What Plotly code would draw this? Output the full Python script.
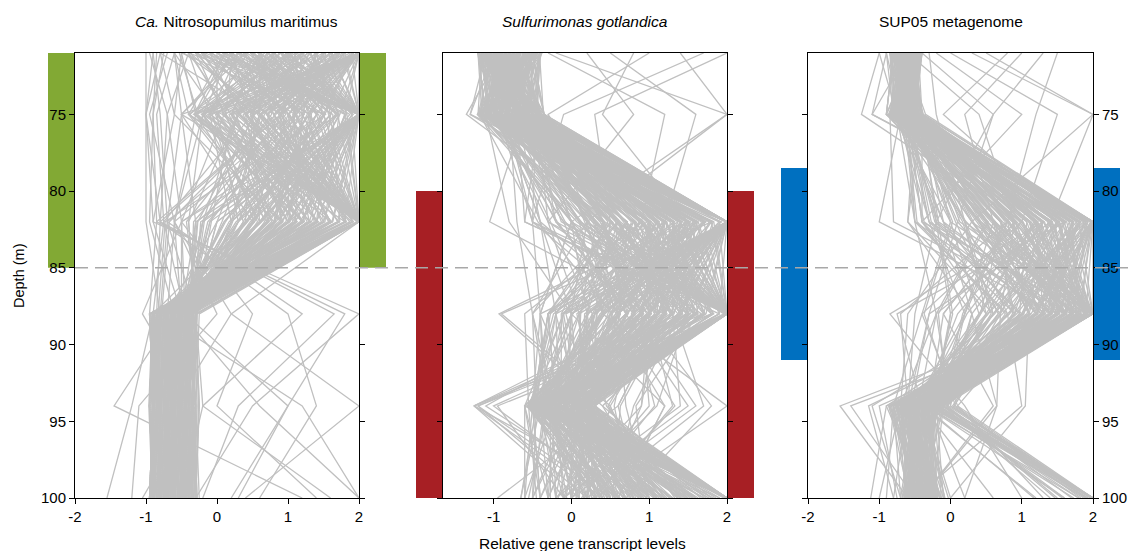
import plotly.graph_objects as go

# Sampling depths (m) of the water-column profile
depths = [71, 75, 82, 88, 94, 100]

# Relative transcript levels per gene (one row per gene, one value per depth)
nmar_profiles = [
    [0.6, 0.2, 2.0, -0.7, -0.8, -0.8], [1.0, 0.5, 2.0, -0.6, -0.9, -0.7],
    [0.3, -0.1, 2.0, -0.5, -0.6, -0.6], [1.4, 0.9, 2.0, -0.8, -0.85, -0.9],
    [-0.2, 0.4, 2.0, -0.4, -0.7, -0.5], [0.9, 1.3, 2.0, -0.9, -0.9, -0.85],
    [0.1, 0.8, 2.0, -0.7, -0.5, -0.6], [1.7, 0.2, 2.0, -0.75, -0.8, -0.8],
    [-0.5, -0.3, 2.0, -0.35, -0.45, -0.4], [0.5, 1.7, 2.0, -0.85, -0.9, -0.95],
    [1.2, -0.2, 2.0, -0.55, -0.65, -0.7], [0.0, 0.0, 2.0, -0.3, -0.55, -0.45],
    [-0.8, 0.6, 2.0, -0.45, -0.35, -0.3], [0.7, 1.0, 2.0, 0.2, -0.6, -0.7],
    [1.9, 1.5, 2.0, -0.9, -0.95, -0.9], [0.4, -0.5, 2.0, -0.6, -0.4, -0.5],
    [-0.3, 1.1, 2.0, -0.65, -0.75, -0.6], [1.5, 0.7, 2.0, -0.5, -0.7, -0.8],
    [1.2, 1.9, 2.0, -0.75, -0.8, -0.85], [0.4, 1.2, 2.0, -0.5, -0.55, -0.6],
    [1.6, 0.1, 2.0, -0.65, -0.7, -0.75], [-0.1, 0.7, 2.0, -0.3, -0.35, -0.4],
    [0.9, -0.4, 2.0, -0.45, -0.5, -0.35], [2.0, 0.4, 2.0, -0.9, -0.85, -0.8],
    [0.2, 1.5, 2.0, -0.6, -0.65, -0.55], [1.1, 1.2, 2.0, -0.8, -0.75, -0.7],
    [-0.4, -0.1, 2.0, -0.25, -0.3, -0.35], [0.6, 0.6, 2.0, -0.55, -0.45, -0.5],
    [1.8, 1.0, 2.0, -0.85, -0.9, -0.95], [0.0, 1.8, 2.0, -0.7, -0.6, -0.65],
    [1.23, 0.47, 2.0, -0.68, -0.73, -0.78], [0.37, 1.12, 2.0, -0.83, -0.88, -0.93],
    [1.57, 1.83, 2.0, -0.93, -0.88, -0.83], [-0.27, 0.33, 2.0, -0.38, -0.43, -0.48],
    [0.83, 0.07, 2.0, -0.53, -0.58, -0.63], [1.93, 0.63, 2.0, -0.78, -0.73, -0.68],
    [0.13, 1.43, 2.0, -0.63, -0.68, -0.73], [1.07, -0.33, 2.0, -0.43, -0.38, -0.33],
    [0.53, 0.93, 2.0, -0.58, -0.53, -0.48], [-0.47, 0.73, 2.0, -0.28, -0.33, -0.38],
    [1.37, 1.57, 2.0, -0.88, -0.83, -0.88], [0.67, -0.17, 2.0, -0.48, -0.63, -0.58],
    [0.8, 2.0, 0.5, -0.7, -0.8, -0.8], [1.3, 2.0, 1.0, -0.8, -0.9, -0.85],
    [0.2, 2.0, -0.2, -0.5, -0.6, -0.6], [1.6, 2.0, 0.2, -0.6, -0.75, -0.7],
    [-0.4, 2.0, 0.8, -0.55, -0.5, -0.45], [0.5, 2.0, 1.5, -0.9, -0.85, -0.9],
    [1.0, 2.0, -0.5, -0.45, -0.55, -0.5], [2.0, 2.0, 0.6, -0.85, -0.9, -0.9],
    [-0.1, 2.0, 1.2, -0.7, -0.65, -0.75], [0.9, 2.0, 0.0, -0.35, -0.4, -0.3],
    [1.1, 2.0, 1.8, -0.95, -0.9, -0.95], [0.0, 2.0, 0.3, -0.6, -0.7, -0.65],
    [1.8, 2.0, -0.3, -0.5, -0.6, -0.55], [0.6, 2.0, 0.9, -0.4, -0.45, -0.35],
    [1.4, 2.0, 1.7, -0.9, -0.95, -0.85], [0.3, 2.0, 0.6, -0.5, -0.55, -0.5],
    [1.9, 2.0, 0.0, -0.7, -0.65, -0.75], [-0.3, 2.0, 1.4, -0.6, -0.6, -0.55],
    [0.7, 2.0, -0.1, -0.4, -0.45, -0.4], [1.2, 2.0, 0.7, -0.65, -0.7, -0.7],
    [0.1, 2.0, 1.0, -0.55, -0.65, -0.6], [1.6, 2.0, 1.1, -0.85, -0.8, -0.85],
    [0.97, 2.0, 0.27, -0.58, -0.63, -0.68], [0.27, 2.0, 1.17, -0.73, -0.68, -0.63],
    [1.47, 2.0, 0.63, -0.68, -0.73, -0.68], [-0.17, 2.0, 0.47, -0.48, -0.53, -0.48],
    [1.77, 2.0, 1.33, -0.93, -0.88, -0.93], [0.57, 2.0, -0.23, -0.33, -0.38, -0.43],
    [1.13, 2.0, 1.63, -0.88, -0.83, -0.88], [0.07, 2.0, 0.83, -0.53, -0.58, -0.53],
    [2.0, 0.9, 0.3, -0.6, -0.7, -0.65], [2.0, 1.4, 0.8, -0.8, -0.85, -0.8],
    [2.0, 0.3, -0.2, -0.5, -0.55, -0.5], [2.0, -0.2, 0.6, -0.45, -0.5, -0.6],
    [2.0, 1.0, 1.3, -0.9, -0.9, -0.85], [2.0, 0.6, 0.0, -0.35, -0.45, -0.4],
    [2.0, 1.6, 0.4, -0.7, -0.75, -0.8], [2.0, -0.5, -0.3, -0.4, -0.3, -0.35],
    [2.0, 0.1, 1.0, -0.65, -0.7, -0.75], [2.0, 1.2, -0.6, -0.5, -0.6, -0.55],
    [2.0, 0.7, 1.6, -0.85, -0.95, -0.9], [2.0, -0.1, 0.2, -0.3, -0.4, -0.45],
    [2.0, 1.8, 1.2, -0.9, -0.95, -0.9], [2.0, 2.0, 1.4, -0.95, -0.9, -0.95],
    [2.0, 0.8, 1.8, -0.8, -0.85, -0.9], [2.0, 0.4, 0.7, -0.55, -0.6, -0.65],
    [2.0, 1.3, 0.1, -0.6, -0.55, -0.6], [2.0, -0.3, 1.2, -0.5, -0.5, -0.45],
    [2.0, 1.1, -0.1, -0.45, -0.5, -0.55], [2.0, 0.9, -0.85, -0.95, -0.9, -0.95],
    [2.0, 0.23, 1.07, -0.73, -0.78, -0.73], [2.0, 1.27, 0.53, -0.63, -0.58, -0.63],
    [2.0, 0.87, 1.57, -0.88, -0.93, -0.88], [2.0, -0.07, 0.37, -0.43, -0.48, -0.43],
    [2.0, 1.73, 0.87, -0.83, -0.78, -0.83], [2.0, 0.53, -0.27, -0.38, -0.43, -0.38],
    [2.0, 1.07, 1.23, -0.78, -0.83, -0.78], [2.0, 0.17, 0.73, -0.53, -0.48, -0.53],
    [1.5, 1.2, 1.1, -0.8, -0.9, -0.9], [0.9, 1.5, 0.7, -0.7, -0.75, -0.7],
    [1.2, 0.4, 1.4, -0.6, -0.85, -0.8], [0.3, 0.9, 1.7, -0.75, -0.7, -0.8],
    [1.7, 0.8, 0.9, -0.9, -0.8, -0.85], [0.6, 1.7, 0.2, -0.5, -0.6, -0.55],
    [-0.2, 1.3, 1.0, -0.6, -0.5, -0.55], [1.1, 0.0, 1.2, -0.4, -0.5, -0.45],
    [0.4, 0.6, 1.5, -0.65, -0.6, -0.7], [1.4, 1.6, 0.1, -0.55, -0.7, -0.6],
    [-0.4, 0.2, 1.3, -0.35, -0.4, -0.3], [0.8, -0.3, 0.7, -0.3, -0.35, -0.3],
    [1.6, 0.5, 0.4, -0.45, -0.55, -0.6], [0.0, 1.0, 0.5, -0.4, -0.45, -0.35],
    [1.3, 1.8, 1.3, -0.95, -0.9, -0.95], [-0.6, -0.4, 1.8, -0.6, -0.7, -0.65],
    [0.7, 0.3, -0.4, -0.3, -0.25, -0.3], [1.0, 1.1, 0.8, -0.7, -0.65, -0.6],
    [0.2, -0.2, 1.1, -0.5, -0.35, -0.45], [1.9, 0.7, 1.6, -0.9, -0.95, -0.9],
    [-0.3, 0.5, 0.6, -0.4, -0.3, -0.25], [0.5, 1.4, 1.9, -0.85, -0.8, -0.75],
    [1.3, -0.3, 1.6, -0.4, -0.45, -0.5], [0.7, 0.5, 1.2, -0.5, -0.6, -0.55],
    [-0.2, 0.9, 0.9, -0.45, -0.4, -0.5], [1.5, 1.7, 0.6, -0.65, -0.75, -0.7],
    [0.9, 0.0, 0.3, -0.3, -0.35, -0.3], [1.7, 1.3, 1.5, -0.95, -0.9, -0.9],
    [0.1, -0.4, 0.8, -0.35, -0.3, -0.4], [1.0, 1.9, 1.1, -0.75, -0.8, -0.8],
    [-0.5, 1.5, 0.4, -0.35, -0.4, -0.35], [0.5, 0.8, 1.6, -0.6, -0.7, -0.65],
    [1.4, 0.2, 1.0, -0.5, -0.55, -0.6], [0.8, 1.6, 1.4, -0.8, -0.85, -0.8],
    [1.8, 0.6, 0.2, -0.5, -0.6, -0.55], [-0.1, 0.3, 1.9, -0.55, -0.6, -0.6],
    [1.1, 0.9, -0.2, -0.4, -0.5, -0.45], [0.2, 1.3, 0.3, -0.45, -0.4, -0.5],
    [1.5, -0.2, -0.4, -0.3, -0.35, -0.3], [0.6, 1.1, 1.8, -0.75, -0.8, -0.75],
    [-0.6, 0.0, 1.0, -0.4, -0.3, -0.3], [1.0, 1.4, 0.5, -0.6, -0.65, -0.7],
    [0.3, -0.5, 0.5, -0.3, -0.25, -0.3], [1.3, 0.9, 1.7, -0.85, -0.9, -0.9],
    [-0.8, -0.6, 0.9, -0.3, -0.4, -0.35], [0.9, 1.7, -0.5, -0.5, -0.55, -0.5],
    [1.63, 1.07, 1.37, -0.83, -0.93, -0.88], [0.77, 1.33, 0.97, -0.68, -0.63, -0.68],
    [1.33, 0.27, 0.77, -0.58, -0.63, -0.58], [-0.07, 0.87, 1.47, -0.63, -0.58, -0.63],
    [1.03, 1.67, 0.17, -0.53, -0.58, -0.63], [0.43, -0.07, 0.57, -0.38, -0.33, -0.28],
    [1.73, 0.93, 1.03, -0.88, -0.83, -0.78], [0.23, 0.43, 1.27, -0.48, -0.43, -0.48],
    [1.17, 1.23, -0.13, -0.43, -0.48, -0.43], [-0.37, 0.13, 0.67, -0.33, -0.28, -0.33],
    [0.87, 0.57, 1.87, -0.73, -0.78, -0.83], [1.53, 1.47, 0.43, -0.68, -0.63, -0.58],
    [0.63, 0.77, -0.43, -0.28, -0.33, -0.28], [1.87, 0.37, 0.93, -0.73, -0.68, -0.73],
    [0.33, 1.63, 1.73, -0.78, -0.83, -0.88], [-0.53, -0.27, 1.13, -0.43, -0.38, -0.43],
    [1.27, 0.67, 0.07, -0.48, -0.53, -0.48], [0.47, 1.87, 0.73, -0.63, -0.68, -0.63],
    [1.43, -0.13, 1.43, -0.58, -0.53, -0.58], [0.17, 0.97, -0.33, -0.38, -0.43, -0.38],
    [1.12, 0.62, 1.92, -0.61, -0.66, -0.71], [0.42, 1.72, 1.52, -0.76, -0.81, -0.76],
    [1.82, 0.02, 1.22, -0.66, -0.61, -0.66], [-0.08, 1.22, 0.82, -0.51, -0.46, -0.51],
    [0.92, 1.92, 0.42, -0.71, -0.76, -0.71], [1.62, 0.52, -0.18, -0.36, -0.41, -0.36],
    [0.22, 0.12, 1.62, -0.46, -0.51, -0.56], [1.42, 1.02, 1.92, -0.86, -0.91, -0.86],
    [0.62, -0.38, 0.92, -0.41, -0.36, -0.41], [1.92, 1.52, 0.62, -0.81, -0.86, -0.81],
    [-0.38, 0.62, 0.22, -0.31, -0.36, -0.31], [1.02, 0.32, 1.72, -0.56, -0.61, -0.66],
    [0.32, 1.82, 1.02, -0.66, -0.71, -0.66], [1.72, 1.12, 0.12, -0.56, -0.51, -0.56],
    [0.82, -0.22, 1.32, -0.46, -0.41, -0.46], [0.02, 1.02, 1.82, -0.71, -0.66, -0.71],
    [1.52, 0.72, 0.72, -0.61, -0.66, -0.61], [0.72, 1.42, -0.28, -0.41, -0.46, -0.41],
    [1.22, -0.02, 0.52, -0.36, -0.31, -0.36], [-0.22, 0.42, 1.42, -0.51, -0.56, -0.51],
    [1.97, 1.32, 1.82, -0.91, -0.86, -0.91], [0.52, 0.22, -0.08, -0.31, -0.26, -0.31],
    [1.32, 1.72, 0.92, -0.76, -0.71, -0.76], [0.12, -0.32, 1.22, -0.41, -0.46, -0.51],
    [1.62, 1.97, 1.62, -0.91, -0.96, -0.91], [0.97, 0.47, 1.12, -0.61, -0.56, -0.61],
    [0.47, 1.17, 0.37, -0.46, -0.51, -0.46], [1.77, 0.27, 1.97, -0.81, -0.76, -0.81],
    [0.6, 0.9, -0.8, -0.85, -0.9, -0.9], [1.4, 1.1, -0.7, -0.8, -0.85, -0.8],
    [0.2, 0.5, -0.75, -0.9, -0.95, -0.9], [1.0, -0.2, -0.6, -0.7, -0.8, -0.75],
    [0.73, 1.53, -0.73, -0.83, -0.88, -0.93], [1.67, 0.83, -0.67, -0.78, -0.73, -0.78],
    [-1.0, -1.0, -1.0, -0.8, 1.2, 2.0], [-0.9, -1.0, -0.9, 2.0, 0.5, -0.3],
    [-0.85, -0.9, -0.85, 1.8, 1.0, 0.3], [-0.95, -0.7, -0.8, 1.65, 0.3, -0.2],
    [-0.8, -1.0, -0.8, 1.0, 1.4, 0.6], [-0.6, -0.5, -0.7, 1.2, -0.2, -0.5],
    [-0.7, -0.95, -0.6, 0.2, 2.0, 0.4], [-0.5, -0.6, -0.9, -0.5, 0.6, 2.0],
    [-0.9, -0.8, -0.7, -0.3, -0.2, 1.6], [-0.4, -0.7, -0.5, 0.5, 0.0, 1.4],
    [-0.75, -0.9, -0.95, -0.6, -1.45, 1.2], [0.8, 1.6, 0.4, -0.9, -1.2, -1.55],
    [-0.6, -0.85, -0.75, -0.45, 1.0, 0.2], [0.2, -0.3, -0.6, 0.0, -1.1, -1.2],
    [-0.3, 0.1, -0.5, -1.05, -0.3, -1.05],
]

sgot_profiles = [
    [-1.0, -0.9, 2.0, 0.6, -0.3, 0.1], [-0.8, -0.7, 2.0, 0.9, 0.0, 0.5],
    [-1.1, -1.0, 2.0, 0.3, -0.4, -0.2], [-0.6, -0.5, 2.0, 1.2, 0.2, 0.8],
    [-0.9, -0.4, 2.0, -0.2, -0.5, -0.4], [-1.2, -1.1, 2.0, 0.0, -0.1, 0.2],
    [-0.7, -0.8, 2.0, 1.5, 0.3, 1.0], [-0.5, -0.35, 2.0, 0.8, -0.45, 0.6],
    [-1.05, -0.95, 2.0, -0.4, 0.1, -0.5], [-0.45, -0.6, 2.0, 0.4, -0.35, 1.3],
    [-0.85, -1.15, 2.0, 1.0, -0.2, -0.1], [-1.15, -0.75, 2.0, 0.2, 0.15, 0.7],
    [-0.65, -1.05, 2.0, 1.7, 0.0, 0.0], [-0.95, -0.55, 2.0, -0.1, -0.55, 0.4],
    [-0.4, -0.45, 2.0, 0.7, 0.25, -0.3],
    [-1.2, -1.15, 2.0, 0.9, -0.2, 0.6], [-1.0, -0.4, 2.0, 1.3, 0.1, 1.1],
    [-0.8, -0.35, 2.0, 0.5, -0.5, 0.2], [-0.6, -0.4, 2.0, 1.6, -0.1, 1.5],
    [-1.1, -0.5, 2.0, 0.1, 0.2, -0.3], [-0.9, -0.65, 2.0, 1.1, -0.4, 0.9],
    [-0.7, -0.9, 2.0, 0.7, 0.0, 1.8], [-0.5, -1.0, 2.0, 1.4, -0.3, 0.4],
    [-1.15, -0.8, 2.0, 0.6, 0.3, 0.0], [-0.4, -0.55, 2.0, 1.9, -0.2, 0.7],
    [-0.95, -1.1, 2.0, -0.3, -0.5, 1.2], [-0.75, -0.7, 2.0, 1.0, 0.1, -0.4],
    [-1.05, -0.45, 2.0, 0.4, -0.45, 1.6], [-0.55, -0.85, 2.0, 1.2, 0.2, 0.3],
    [-0.85, -0.5, 2.0, 0.0, -0.05, 0.9],
    [-1.18, -1.13, 2.0, 0.83, -0.27, 0.47], [-1.08, -0.98, 2.0, 1.37, 0.13, 0.93],
    [-0.98, -0.83, 2.0, 0.37, -0.43, 1.57], [-0.88, -0.68, 2.0, 1.73, 0.07, 0.23],
    [-0.78, -0.53, 2.0, 0.57, -0.17, 1.27], [-0.68, -0.38, 2.0, 1.13, -0.37, 0.67],
    [-0.58, -1.08, 2.0, -0.07, 0.23, 0.83], [-0.48, -0.93, 2.0, 0.97, -0.53, 1.83],
    [-0.38, -0.78, 2.0, 1.53, 0.17, -0.17], [-1.13, -0.63, 2.0, 0.27, -0.07, 1.07],
    [-1.03, -0.48, 2.0, 1.17, -0.47, 0.37],
    [-1.0, -0.9, 0.5, 2.0, -0.2, 0.0], [-0.8, -1.1, 1.0, 2.0, 0.1, 0.4],
    [-1.1, -0.7, 0.0, 2.0, -0.4, 0.3], [-0.6, -0.5, 1.5, 2.0, 0.3, 0.9],
    [-0.9, -1.0, -0.3, 2.0, 0.0, -0.2], [-1.2, -0.8, 0.8, 2.0, -0.5, 0.6],
    [-0.7, -0.6, 1.2, 2.0, 0.2, -0.4], [-0.5, -1.2, 0.3, 2.0, -0.3, 1.2],
    [-1.05, -0.4, -0.6, 2.0, 0.15, 0.1], [-0.45, -0.95, 1.7, 2.0, -0.1, 0.5],
    [-0.85, -0.65, 0.6, 2.0, 0.0, -0.5], [-1.15, -1.05, -0.1, 2.0, -0.35, 0.8],
    [-0.75, -0.85, 1.3, 2.0, 0.25, 0.2], [-0.55, -0.45, 0.2, 2.0, -0.45, -0.1],
    [-1.2, -0.95, 1.5, 2.0, -0.3, 0.5], [-1.0, -0.6, 0.7, 2.0, 0.0, 1.3],
    [-0.8, -1.15, 1.8, 2.0, -0.5, 0.1], [-0.6, -0.75, 0.1, 2.0, 0.2, 0.8],
    [-1.1, -0.35, 1.1, 2.0, -0.2, -0.3], [-0.9, -1.05, 0.4, 2.0, 0.1, 1.6],
    [-0.7, -0.55, 1.6, 2.0, -0.4, 0.4], [-0.5, -0.9, -0.2, 2.0, -0.1, 1.0],
    [-1.15, -0.7, 0.9, 2.0, 0.25, 0.0], [-0.4, -1.0, 1.4, 2.0, -0.35, 1.4],
    [-0.95, -0.45, -0.5, 2.0, 0.05, 0.6], [-0.75, -1.2, 1.9, 2.0, -0.25, -0.2],
    [-1.05, -0.8, 0.6, 2.0, -0.5, 1.1],
    [-0.93, -1.18, 1.27, 2.0, -0.13, 0.77], [-0.83, -1.03, 0.43, 2.0, 0.07, 1.43],
    [-0.73, -0.88, 1.63, 2.0, -0.33, 0.17], [-0.63, -0.73, 0.87, 2.0, 0.27, 1.17],
    [-0.53, -0.58, -0.13, 2.0, -0.23, 0.57], [-0.43, -0.43, 1.07, 2.0, -0.43, 1.77],
    [-1.18, -0.98, 0.27, 2.0, 0.13, -0.07], [-1.08, -0.83, 1.43, 2.0, -0.03, 0.97],
    [-0.98, -0.68, 0.63, 2.0, -0.57, 0.33], [-0.88, -1.13, 1.83, 2.0, 0.03, 1.53],
    [-1.0, -0.9, 0.2, 0.5, 0.0, 2.0], [-0.8, -1.1, 0.6, 1.0, -0.3, 2.0],
    [-1.1, -0.7, -0.4, 0.0, 0.1, 2.0], [-0.6, -0.5, 1.1, 0.4, -0.5, 2.0],
    [-0.9, -1.0, 0.0, 1.3, 0.2, 2.0], [-1.2, -0.8, 0.9, -0.3, -0.2, 2.0],
    [-0.7, -0.6, -0.2, 0.8, 0.05, 2.0], [-0.5, -1.2, 0.4, 0.2, -0.4, 2.0],
    [-1.05, -0.4, 1.4, 0.6, -0.1, 2.0], [-0.45, -0.95, -0.5, 1.6, 0.3, 2.0],
    [-0.85, -0.65, 0.7, -0.1, -0.35, 2.0], [-1.15, -1.05, 0.1, 1.1, 0.1, 2.0],
    [-1.2, -0.6, 0.5, 0.3, -0.3, 2.0], [-1.0, -1.0, 1.2, 0.9, 0.0, 2.0],
    [-0.8, -0.45, -0.3, 1.5, -0.2, 2.0], [-0.6, -0.85, 0.8, -0.2, 0.1, 2.0],
    [-1.1, -1.1, 1.6, 1.2, -0.4, 2.0], [-0.9, -0.5, 0.3, 0.6, 0.2, 2.0],
    [-0.7, -0.7, -0.6, 1.9, -0.1, 2.0], [-0.5, -1.15, 1.0, 0.1, 0.15, 2.0],
    [-1.15, -0.4, 1.9, 0.8, -0.5, 2.0], [-0.4, -0.95, 0.0, -0.4, -0.3, 2.0],
    [-0.95, -0.65, 1.3, 1.4, 0.05, 2.0], [-0.75, -1.05, -0.1, 0.4, -0.15, 2.0],
    [-1.05, -0.75, 0.7, 1.7, 0.1, 2.0], [-0.55, -0.35, 1.5, 0.0, -0.55, 2.0],
    [-0.78, -0.38, 0.17, 0.63, -0.27, 2.0], [-0.68, -1.08, 1.23, 1.07, 0.07, 2.0],
    [-0.58, -0.93, -0.27, 0.27, -0.37, 2.0], [-0.48, -0.78, 0.93, 1.43, 0.17, 2.0],
    [-0.38, -0.63, 0.47, -0.13, -0.13, 2.0], [-1.13, -0.48, 1.57, 0.87, -0.47, 2.0],
    [-1.03, -1.18, 0.07, 1.67, 0.23, 2.0], [-0.93, -0.53, 0.77, 0.47, -0.03, 2.0],
    [-0.83, -0.73, 1.37, -0.23, -0.53, 2.0], [-0.73, -0.98, 0.53, 1.23, 0.27, 2.0],
    [-1.0, -0.8, 0.5, 0.4, 2.0, 0.3], [-0.7, -1.0, 1.0, 0.8, 1.6, 0.0],
    [-1.1, -0.6, 0.2, 0.0, 1.2, 0.6], [-0.8, -0.9, 1.4, 1.0, 0.9, 0.4],
    [-0.6, -1.1, 0.7, 1.3, 1.4, -0.2], [-0.9, -0.5, 0.0, 0.6, 0.7, 1.0],
    [-1.2, -0.7, 1.1, 1.2, 0.5, 0.2], [-0.5, -0.85, 0.3, 0.9, 1.8, 0.7],
    [-1.0, -1.2, 0.9, 1.5, 1.1, -0.1], [-0.75, -0.6, 0.6, 0.2, 0.45, 1.4],
    [-1.1, -0.75, 1.0, 1.0, 1.3, 0.3], [-0.8, -1.0, 0.6, 1.4, 0.8, 0.5],
    [-0.7, -0.55, 1.2, 0.7, 1.5, -0.1], [-1.0, -0.9, 0.8, 1.2, 0.6, 0.9],
    [-0.5, -0.65, 1.5, 0.9, 1.0, 0.0], [-0.95, -1.1, 0.2, 1.6, 0.4, 1.1],
    [-0.6, -0.8, 1.1, 0.5, 1.2, 0.6], [-1.15, -0.5, 0.7, 1.1, 0.9, -0.2],
    [-0.85, -0.95, 1.3, 1.3, 1.7, 0.2], [-0.75, -0.35, 0.4, 0.8, 0.55, 0.8],
    [-0.93, -0.48, 0.67, 1.27, 0.63, 0.53], [-0.83, -1.08, 1.53, 0.77, 1.07, 0.13],
    [-0.73, -0.83, 0.93, 1.63, 0.83, 0.97], [-0.63, -0.68, 0.23, 0.57, 1.33, 0.27],
    [-0.53, -0.98, 1.27, 1.17, 0.47, 1.33],
    [-0.9, -0.8, 1.5, 1.4, -1.25, 0.4], [-1.0, -0.7, 1.2, 1.8, -1.2, 0.2],
    [-0.8, -1.0, 1.7, 1.1, -1.25, 0.9], [-0.6, -0.9, 0.9, 1.6, -1.0, 0.6],
    [-1.1, -0.6, 1.3, 2.0, -0.95, -0.1], [-1.0, -0.8, 1.4, 1.5, -1.2, 0.5],
    [-0.8, -0.6, 1.0, 1.7, -1.25, 0.1], [-0.9, -1.05, 1.6, 1.0, -1.1, 0.7],
    [-1.0, -0.9, 1.2, 1.1, 0.0, 0.7], [-0.8, -0.7, 0.8, 1.4, 0.2, 0.3],
    [-1.1, -1.0, 1.5, 0.6, -0.1, 1.1], [-0.6, -0.5, 0.4, 0.9, -0.3, 1.5],
    [-0.9, -0.4, 1.1, 0.3, 0.1, 0.9], [-1.2, -1.1, 0.6, 1.3, -0.2, 1.7],
    [-0.7, -0.8, 1.8, 0.7, -0.4, 0.5], [-0.5, -0.35, 0.9, 1.0, 0.3, 1.2],
    [-1.05, -0.95, 0.3, 1.5, -0.45, 1.6], [-0.45, -0.6, 1.6, 0.5, 0.2, 0.8],
    [-0.85, -1.15, 1.3, 1.7, 0.0, 0.0], [-1.15, -0.75, 0.1, 0.4, -0.55, 1.3],
    [-0.65, -1.05, 1.0, 1.2, 0.15, 1.0], [-0.95, -0.55, 0.7, 0.1, -0.25, 1.4],
    [-0.4, -0.45, -0.2, 0.8, -0.05, 0.6], [-1.0, -1.0, 1.4, 1.9, -0.3, 0.2],
    [-0.75, -0.65, 0.5, -0.3, -0.5, 0.4], [-0.55, -0.9, -0.4, -0.2, -0.15, 0.9],
    [-1.1, -0.5, 0.0, 0.7, -0.6, -0.3], [-0.85, -0.8, -0.7, -0.5, -0.2, -0.6],
    [-0.6, -1.1, -0.8, 0.0, -0.4, -0.65],
    [-1.2, -1.0, 1.0, 0.6, -0.6, 1.5], [-1.0, -0.55, 0.2, 1.1, -0.2, 1.1],
    [-0.8, -0.8, 1.7, 0.2, 0.0, 0.6], [-0.6, -1.1, 0.5, 1.8, -0.45, 1.7],
    [-1.1, -0.65, 1.2, 0.5, 0.25, 0.2], [-0.9, -0.9, -0.4, 1.0, -0.35, 1.3],
    [-0.7, -0.4, 0.9, -0.1, 0.1, 0.9], [-0.5, -0.7, 1.4, 1.3, -0.25, 0.0],
    [-1.15, -1.2, 0.4, 0.7, -0.5, 1.9], [-0.4, -0.5, 1.1, 1.6, 0.3, -0.1],
    [-0.95, -1.05, 0.8, 0.3, -0.05, 0.5], [-0.75, -0.6, 1.8, 1.0, -0.4, 1.2],
    [-1.05, -0.85, -0.5, 0.9, 0.15, 0.7], [-0.55, -1.0, 0.6, -0.3, -0.2, 1.6],
    [-1.2, -0.45, 1.3, 1.5, -0.55, 0.3], [-0.85, -1.15, 0.0, 0.2, 0.2, 1.0],
    [-0.65, -0.8, 1.5, 0.8, -0.6, -0.4], [-1.0, -0.7, 0.3, 1.2, 0.05, 1.4],
    [-0.6, -0.95, 1.6, 0.6, -0.3, 0.8], [-0.9, -0.4, 0.9, 1.8, 0.1, 0.1],
    [-0.63, -0.43, 1.13, 0.73, -0.23, 1.63], [-0.53, -1.13, 0.33, 1.37, 0.03, 1.23],
    [-0.43, -0.83, 1.47, 0.43, -0.43, 0.87], [-1.18, -0.68, 0.83, 1.57, -0.17, 0.43],
    [-1.08, -0.53, 1.73, 0.17, 0.13, 1.37], [-0.98, -1.03, 0.13, 0.93, -0.57, 0.63],
    [-0.88, -0.88, 1.03, 1.83, -0.07, 1.13], [-0.78, -0.73, 0.57, 0.63, 0.23, 0.07],
    [-0.68, -0.58, 1.33, 1.13, -0.33, 1.47], [-0.58, -1.18, -0.43, 0.53, 0.07, 0.93],
    [-0.48, -0.43, 0.97, -0.27, -0.47, 0.33], [-0.38, -0.93, 1.67, 1.47, 0.17, 1.73],
    [-1.13, -0.78, 0.37, 1.03, -0.27, -0.27], [-1.03, -0.63, 1.17, 0.33, 0.27, 0.73],
    [-1.16, -0.96, 1.93, 0.43, -0.41, 0.56], [-1.06, -0.81, 0.12, 1.96, -0.51, 1.21],
    [-0.96, -0.66, 1.18, 0.88, -0.21, 1.96], [-0.86, -0.51, 0.52, 1.52, 0.11, 0.26],
    [-0.76, -0.41, 1.42, 0.22, -0.31, 0.91], [-0.66, -1.16, 0.82, 1.12, 0.21, 1.56],
    [-0.56, -1.01, -0.18, 0.72, -0.06, 0.36], [-0.46, -0.86, 1.62, 1.32, -0.46, 1.06],
    [-1.11, -0.71, 0.32, 0.12, 0.06, 1.76], [-1.01, -0.56, 1.12, 1.72, -0.16, 0.16],
    [-0.91, -1.11, 0.72, 0.62, -0.36, 1.46], [-0.81, -0.96, 1.82, 1.42, 0.16, 0.66],
    [-0.71, -0.81, -0.08, 0.92, -0.56, 1.16], [-0.61, -0.66, 0.92, 0.32, 0.26, 0.46],
    [-0.51, -0.51, 1.52, 1.62, -0.11, 1.86], [-0.41, -0.36, 0.42, 0.82, -0.41, 0.76],
    [-1.16, -1.06, 1.32, -0.12, 0.01, 1.26], [-1.06, -0.91, 0.62, 1.22, -0.26, -0.06],
    [-0.96, -0.76, 1.72, 0.52, 0.31, 1.66], [-0.86, -0.61, 0.22, 1.42, -0.51, 0.56],
    [-0.76, -0.46, 1.02, 1.02, 0.11, 1.36], [-0.66, -1.21, 0.02, 0.42, -0.21, 0.96],
    [-0.56, -1.06, 1.22, 1.82, 0.01, 0.26], [-0.46, -0.91, 0.72, 0.02, -0.46, 1.56],
    [-1.11, -0.76, 1.62, 1.12, -0.06, 0.86], [-1.01, -0.61, 0.42, 0.72, 0.21, 1.16],
    [-0.91, -0.46, 0.97, 1.47, -0.36, 0.46], [-0.81, -1.16, 1.47, 0.37, -0.16, 1.91],
    [-0.71, -1.01, 0.37, 1.07, 0.26, 0.61], [-0.61, -0.86, 1.07, 0.57, -0.56, 1.31],
    [-0.51, -0.71, 0.57, 1.57, 0.06, 0.06], [-0.41, -0.56, 1.37, 0.87, -0.26, 1.01],
    [-1.16, -0.41, 0.87, 0.27, 0.16, 0.36], [-1.06, -1.11, 1.77, 1.27, -0.41, 1.71],
    [-0.96, -0.96, 0.27, 0.97, -0.11, 0.81], [-0.86, -0.81, 1.57, 0.07, 0.31, 1.41],
    [2.0, 0.3, 0.5, -0.2, -0.4, -0.3], [1.4, 2.0, 0.0, -0.4, -0.5, -0.6],
    [0.5, 1.6, 1.2, -0.3, -0.45, -0.5], [0.2, 0.8, -0.3, 0.1, -0.5, -0.4],
    [1.0, -0.3, 0.6, -0.5, -0.3, -0.55], [-0.3, 1.2, 0.9, -0.6, -0.55, -0.45],
    [0.8, 0.4, 1.5, -0.1, -0.6, -0.6], [-0.2, 2.0, 0.2, -0.5, -0.45, -0.65],
    [1.7, -0.1, -0.5, -0.4, -0.35, -0.5],
    [-1.0, -1.3, 1.0, 0.8, 0.2, 0.5], [-0.9, -1.35, 0.5, 1.3, -0.1, 0.9],
    [-1.1, -1.3, 1.6, 0.3, 0.0, 0.7], [-0.8, -0.6, -1.05, 1.2, 0.3, 1.5],
    [-1.0, -0.9, 1.5, -0.93, 0.4, 1.8], [-0.7, -0.8, 1.8, -0.9, 0.5, 1.0],
    [-0.9, -1.0, 1.4, 1.2, 0.6, -0.95],
]

sup05_profiles = [
    [-0.6, -0.7, 2.0, 1.6, -0.5, -0.4], [-0.5, -0.6, 1.8, 2.0, -0.6, -0.5],
    [-0.7, -0.8, 1.5, 2.0, -0.4, -0.3], [-0.4, -0.5, 2.0, 1.2, -0.7, -0.6],
    [-0.8, -0.9, 1.0, 2.0, -0.3, -0.2], [-0.65, -0.55, 2.0, 0.8, -0.5, -0.45],
    [-0.55, -0.75, 1.2, 1.8, -0.6, -0.35], [-0.45, -0.4, 1.7, 1.5, -0.8, -0.5],
    [-0.75, -0.65, 0.6, 2.0, -0.2, -0.1], [-0.6, -0.85, 2.0, 1.0, -0.45, -0.55],
    [-0.5, -0.45, 1.4, 1.7, -0.55, -0.25], [-0.7, -0.6, 0.9, 1.9, -0.35, -0.65],
    [-0.4, -0.7, 1.9, 0.6, -0.65, -0.3], [-0.8, -0.5, 0.3, 2.0, -0.1, -0.4],
    [-0.55, -0.8, 1.6, 1.3, -0.75, -0.15], [-0.65, -0.35, 2.0, 1.9, -0.5, -0.7],
    [-0.45, -0.6, 0.7, 1.6, -0.25, -0.5], [-0.75, -0.7, 1.3, 0.9, -0.4, 0.0],
    [-0.6, -0.5, 1.8, 1.4, -0.6, -0.35], [-0.5, -0.9, 0.5, 2.0, -0.85, -0.45],
    [-0.7, -0.45, 1.1, 2.0, -0.15, -0.55], [-0.4, -0.55, 2.0, 1.5, -0.45, -0.6],
    [-0.85, -0.65, -0.3, 1.8, -0.3, -0.2], [-0.55, -0.4, 0.0, 2.0, -0.7, -0.4],
    [-0.6, -0.75, -0.5, 1.4, -0.5, -0.25], [-0.5, -0.6, -0.4, 2.0, -0.2, -0.6],
    [-0.7, -0.8, 1.5, 0.4, -0.55, -0.5], [-0.45, -0.5, 1.2, 0.1, -0.4, -0.3],
    [-0.65, -0.7, 0.8, 1.1, -0.9, -0.35],
    [-0.55, -0.65, 1.7, 1.8, -0.45, -0.4], [-0.7, -0.5, 2.0, 1.4, -0.6, -0.3],
    [-0.45, -0.75, 1.3, 2.0, -0.3, -0.55], [-0.8, -0.6, 1.9, 1.2, -0.7, -0.2],
    [-0.6, -0.45, 0.9, 2.0, -0.5, -0.45], [-0.5, -0.85, 2.0, 1.7, -0.4, -0.6],
    [-0.75, -0.55, 1.6, 1.9, -0.8, -0.35], [-0.65, -0.7, 0.4, 1.7, -0.2, -0.5],
    [-0.4, -0.6, 1.8, 0.9, -0.55, -0.25], [-0.85, -0.8, 1.1, 1.6, -0.35, -0.65],
    [-0.55, -0.4, 2.0, 2.0, -0.65, -0.45], [-0.7, -0.65, 0.2, 1.9, -0.45, -0.15],
    [-0.5, -0.5, 1.5, 1.1, -0.75, -0.5], [-0.6, -0.8, 0.7, 1.8, -0.25, -0.35],
    [-0.45, -0.7, 1.9, 1.6, -0.6, -0.55], [-0.8, -0.45, 1.4, 0.7, -0.5, -0.1],
    [-0.65, -0.6, -0.2, 1.5, -0.4, -0.4], [-0.55, -0.9, 1.0, 2.0, -0.15, -0.6],
    [-0.75, -0.5, 2.0, 1.3, -0.85, -0.3], [-0.4, -0.65, 0.6, 1.2, -0.3, -0.45],
    [-0.6, -0.55, 1.2, 1.7, -0.65, -0.2], [-0.7, -0.75, 1.7, 2.0, -0.55, -0.5],
    [-0.5, -0.4, -0.4, 0.9, -0.35, -0.35], [-0.85, -0.7, 0.3, 1.4, -0.7, -0.55],
    [-0.45, -0.85, 1.6, 1.0, -0.1, -0.25], [-0.65, -0.45, 0.8, 2.0, -0.45, -0.65],
    [-0.55, -0.6, 1.3, 0.5, -0.6, -0.15], [-0.75, -0.8, -0.1, 1.6, -0.5, -0.4],
    [-0.6, -0.7, 2.0, 1.8, -0.3, -0.3], [-0.4, -0.5, 0.5, 1.3, -0.8, -0.5],
    [-0.58, -0.68, 1.87, 1.63, -0.48, -0.38], [-0.48, -0.58, 1.63, 1.97, -0.63, -0.53],
    [-0.68, -0.78, 1.43, 1.87, -0.38, -0.28], [-0.43, -0.53, 1.97, 1.27, -0.73, -0.63],
    [-0.78, -0.83, 1.13, 1.93, -0.28, -0.18], [-0.63, -0.58, 1.93, 0.93, -0.53, -0.43],
    [-0.53, -0.73, 1.27, 1.73, -0.58, -0.33], [-0.47, -0.43, 1.73, 1.43, -0.83, -0.48],
    [-0.73, -0.63, 0.73, 1.97, -0.23, -0.13], [-0.58, -0.83, 1.97, 1.13, -0.43, -0.58],
    [-0.52, -0.47, 1.47, 1.63, -0.53, -0.23], [-0.68, -0.62, 0.97, 1.83, -0.33, -0.63],
    [-0.42, -0.68, 1.83, 0.73, -0.63, -0.28], [-0.77, -0.52, 0.43, 1.97, -0.13, -0.38],
    [-0.57, -0.77, 1.57, 1.37, -0.73, -0.18], [-0.63, -0.38, 1.97, 1.83, -0.48, -0.68],
    [-0.47, -0.57, 0.83, 1.57, -0.28, -0.48], [-0.73, -0.72, 1.37, 1.03, -0.43, -0.03],
    [-0.62, -0.48, 1.77, 1.47, -0.58, -0.33], [-0.52, -0.87, 0.63, 1.93, -0.87, -0.43],
    [-0.67, -0.47, 1.17, 1.97, -0.18, -0.53], [-0.43, -0.57, 1.93, 1.53, -0.47, -0.58],
    [-0.82, -0.67, -0.17, 1.77, -0.33, -0.22], [-0.57, -0.42, 0.13, 1.97, -0.67, -0.42],
    [-0.62, -0.73, -0.37, 1.33, -0.52, -0.27], [-0.48, -0.62, 1.53, 1.77, -0.22, -0.62],
    [-0.72, -0.77, 1.43, 0.53, -0.57, -0.47], [-0.47, -0.52, 1.23, 0.23, -0.42, -0.27],
    [-0.67, -0.68, 0.87, 1.23, -0.77, -0.37], [-0.53, -0.63, 1.67, 1.83, -0.43, -0.42],
    [-0.68, -0.52, 1.97, 1.33, -0.62, -0.32], [-0.43, -0.73, 1.37, 1.97, -0.32, -0.57],
    [-0.78, -0.58, 1.83, 1.17, -0.68, -0.22], [-0.58, -0.47, 0.93, 1.97, -0.52, -0.47],
    [-0.52, -0.82, 1.97, 1.67, -0.42, -0.62], [-0.73, -0.53, 1.53, 1.87, -0.78, -0.37],
    [-0.63, -0.72, 0.47, 1.63, -0.22, -0.52], [-0.42, -0.62, 1.73, 0.83, -0.57, -0.27],
    [-0.83, -0.78, 1.07, 1.53, -0.37, -0.67],
    [-0.56, -0.61, 1.12, 1.52, -0.46, -0.33], [-0.66, -0.51, 1.62, 0.62, -0.66, -0.43],
    [-0.46, -0.71, 0.42, 1.82, -0.26, -0.18], [-0.76, -0.56, 1.82, 1.02, -0.56, -0.53],
    [-0.51, -0.46, 0.92, 1.32, -0.76, -0.28], [-0.61, -0.76, 1.32, 1.72, -0.36, -0.08],
    [-0.71, -0.66, 0.62, 1.92, -0.16, -0.48], [-0.41, -0.51, 1.52, 0.82, -0.51, -0.38],
    [-0.81, -0.61, 1.02, 1.62, -0.86, -0.58], [-0.56, -0.41, 1.72, 1.22, -0.41, -0.23],
    [-0.66, -0.81, 0.22, 1.42, -0.31, -0.63], [-0.46, -0.56, 1.92, 1.52, -0.61, -0.13],
    [-0.76, -0.71, 0.72, 0.42, -0.46, -0.43], [-0.51, -0.66, 1.42, 1.87, -0.21, -0.33],
    [-0.61, -0.46, 0.32, 1.12, -0.71, -0.53], [-0.71, -0.76, 1.22, 1.97, -0.56, -0.18],
    [-0.41, -0.61, 1.87, 0.52, -0.36, -0.48], [-0.81, -0.51, 0.52, 1.72, -0.26, -0.28],
    [-0.56, -0.71, 1.67, 1.07, -0.81, -0.58], [-0.66, -0.56, 0.82, 1.77, -0.41, -0.08],
    [-0.46, -0.81, 1.07, 0.97, -0.51, -0.38], [-0.76, -0.46, 1.97, 1.62, -0.66, -0.63],
    [-0.51, -0.61, -0.22, 1.27, -0.31, -0.23], [-0.61, -0.66, 1.57, 1.97, -0.46, -0.43],
    [-0.71, -0.51, 0.07, 0.67, -0.21, -0.33], [-0.53, -0.56, 1.27, 1.42, -0.56, -0.13],
    [-0.63, -0.77, 0.57, 1.92, -0.68, -0.52], [-0.44, -0.48, 1.77, 0.67, -0.38, -0.28],
    [-0.7, -0.4, -0.6, 0.6, -0.4, -0.45], [-0.5, -0.75, -0.3, 0.2, -0.25, -0.35],
    [-0.8, -0.55, 0.1, -0.3, -0.55, -0.2], [-0.6, -0.6, -0.5, -0.2, -0.45, -0.6],
    [-0.45, -0.8, 0.0, 0.4, -0.35, -0.3],
    [-0.6, -0.7, 0.2, 0.6, -0.3, 2.0], [-0.5, -0.5, 0.8, 0.2, -0.1, 2.0],
    [-0.7, -0.6, -0.3, 1.0, -0.2, 2.0], [-0.4, -0.8, 0.5, -0.2, 0.0, 2.0],
    [-0.8, -0.45, 1.2, 0.4, -0.35, 1.8], [-0.55, -0.65, -0.5, 0.8, -0.15, 1.6],
    [-0.65, -0.55, 0.0, -0.4, 0.1, 2.0], [-0.45, -0.75, 0.4, 1.3, -0.05, 1.5],
    [-0.75, -0.4, -0.2, 0.0, -0.25, 2.0], [-0.5, -0.85, 0.9, 1.5, -0.4, 1.2],
    [-0.6, -0.6, 0.6, 0.9, 0.05, 1.9], [-0.7, -0.5, -0.6, 0.3, -0.1, 1.4],
    [-0.65, -0.5, 0.2, 0.5, -0.1, 2.0], [-0.55, -0.7, 0.7, 1.1, -0.3, 2.0],
    [-0.75, -0.6, -0.4, 0.7, -0.05, 1.7], [-0.5, -0.45, 1.0, 0.0, -0.2, 2.0],
    [-0.7, -0.85, 0.4, 1.4, -0.15, 1.8], [-0.6, -0.55, 1.3, 0.3, 0.0, 2.0],
    [-0.4, -0.7, -0.1, 0.9, -0.35, 1.6], [-0.85, -0.65, 0.6, 1.6, -0.1, 2.0],
    [-0.55, -0.5, 0.9, -0.1, -0.3, 1.9], [-0.65, -0.75, 0.3, 1.2, 0.1, 1.3],
    [-0.5, -0.6, 1.5, 0.6, -0.25, 2.0],
    [-0.62, -0.68, 0.17, 0.57, -0.27, 1.97], [-0.52, -0.52, 0.77, 0.17, -0.12, 1.93],
    [-0.72, -0.58, -0.27, 0.97, -0.22, 1.87], [-0.43, -0.78, 0.53, -0.17, -0.03, 1.97],
    [-0.77, -0.47, 1.17, 0.43, -0.32, 1.73], [-0.57, -0.63, -0.47, 0.77, -0.17, 1.57],
    [-0.67, -0.57, 0.03, -0.37, 0.07, 1.97], [-0.47, -0.73, 0.37, 1.27, -0.07, 1.47],
    [-0.73, -0.43, -0.17, 0.03, -0.27, 1.93], [-0.53, -0.83, 0.87, 1.47, -0.37, 1.17],
    [-0.6, -0.63, 0.63, 0.87, 0.03, 1.83],
    [1.3, 0.6, -0.2, -0.5, -0.6, -0.5], [0.5, 2.0, 0.3, -0.6, -0.7, -0.6],
    [0.0, 1.5, 1.0, -0.4, -0.8, -0.7], [1.0, 0.2, 0.6, 0.2, -0.5, -0.6],
    [-0.2, 1.0, -0.4, 0.5, -0.3, -0.5], [0.8, -0.1, 1.6, -0.3, -0.6, -0.4],
    [-0.4, 0.6, 0.1, 1.2, -0.5, -0.3], [0.3, 2.0, 1.4, -0.2, -0.7, -0.5],
    [1.5, 1.2, 0.8, -0.7, -0.6, -0.8], [-0.6, 0.4, 0.9, -0.1, 0.6, -0.4],
    [-0.3, -0.2, 0.2, 0.8, 1.0, -0.5], [-0.5, -0.4, -0.1, 0.3, 0.65, 0.2],
    [-1.0, -1.25, 1.0, 1.6, -0.4, -0.3], [-0.9, -1.1, 1.8, 1.2, -0.6, -0.5],
    [-0.8, -0.7, -1.0, 1.5, -0.3, 0.2], [-0.7, -0.85, -0.8, 1.7, -0.2, -0.3],
    [-0.6, -0.5, 1.3, -0.85, 0.2, 1.0], [-0.5, -0.7, 1.6, -0.75, -0.4, 0.6],
    [-0.7, -0.6, 1.1, 1.8, -1.55, -0.6], [-0.6, -0.8, 1.4, 2.0, -1.4, -0.5],
    [-0.5, -0.55, 0.7, 1.5, -1.15, -0.8], [-0.75, -0.65, 1.9, 1.0, -1.1, -0.7],
    [-0.8, -0.9, 0.6, 1.6, -0.9, -1.12], [-0.6, -0.45, 1.2, 1.3, -0.7, -1.0],
    [-0.9, -0.7, 0.4, 1.1, -0.8, -0.9], [-0.55, -0.6, 1.5, 1.9, -1.0, -0.75],
    [-0.8, -0.9, 1.2, 1.9, -0.6, -0.5], [-1.0, -0.75, 1.4, 1.5, -0.7, -0.6],
    [-0.9, -0.8, 0.8, 1.7, -0.75, -0.55], [-0.6, -1.1, 1.7, 1.4, -0.45, -0.4],
    [-0.6, -0.7, 0.5, 1.1, 1.05, 0.0], [-0.5, -0.6, 0.9, 0.7, 0.65, -0.4],
]

panel_titles = ["<i>Ca.</i> Nitrosopumilus maritimus",
                "<i>Sulfurimonas gotlandica</i>",
                "SUP05 metagenome"]
x_ranges = [[-2, 2], [-1.65, 2], [-2, 2]]
x_tickvals = [[-2, -1, 0, 1, 2], [-1, 0, 1, 2], [-2, -1, 0, 1, 2]]
depth_ticks = [75, 80, 85, 90, 95, 100]

# Depth zones highlighted beside each panel
zone_top = [71, 80, 78.5]
zone_bottom = [85, 100, 91]
zone_colors = ["#82A934", "#A71F24", "#0070C0"]

W, H = 1130, 551
panel_px = [(75, 359), (443, 727), (808, 1093)]
plot_top, plot_bottom = 53, 498
bar_w = 27

line_color = "#C0C0C0"
font_family = "Liberation Sans, Arial, sans-serif"

fig = go.Figure()
all_profiles = [nmar_profiles, sgot_profiles, sup05_profiles]

for i, profiles in enumerate(all_profiles):
    xs, ys = [], []
    for p in profiles:
        xs.extend(p + [None])
        ys.extend(depths + [None])
    suffix = "" if i == 0 else str(i + 1)
    fig.add_trace(go.Scatter(
        x=xs, y=ys, mode="lines",
        line=dict(color=line_color, width=1.3),
        xaxis="x" + suffix, yaxis="y" + suffix,
        hoverinfo="skip", showlegend=False,
    ))

y_dom = [(H - plot_bottom) / H, (H - plot_top) / H]
axis_font = dict(family=font_family, size=15, color="black")

layout = dict(
    width=W, height=H,
    margin=dict(l=0, r=0, t=0, b=0, autoexpand=False),
    paper_bgcolor="white", plot_bgcolor="white",
    font=dict(family=font_family, color="black"),
    showlegend=False,
)

for i in range(3):
    suffix = "" if i == 0 else str(i + 1)
    x0, x1 = panel_px[i]
    layout["xaxis" + suffix] = dict(
        domain=[x0 / W, x1 / W], range=x_ranges[i],
        tickvals=x_tickvals[i], ticktext=[str(v) for v in x_tickvals[i]],
        ticks="outside", ticklen=5,
        tickcolor="black", showline=True, linecolor="black", linewidth=1,
        mirror=True, showgrid=False, zeroline=False, automargin=False,
        tickfont=axis_font, anchor="y" + suffix,
    )
    ycfg = dict(
        domain=y_dom, range=[100, 71], tickvals=depth_ticks,
        ticks="outside", ticklen=5, tickcolor="black",
        showline=True, linecolor="black", linewidth=1, mirror="ticks",
        showgrid=False, zeroline=False, tickfont=axis_font, automargin=False,
        anchor="x" + suffix,
        showticklabels=(i != 1),
    )
    if i == 2:
        ycfg["side"] = "right"
    layout["yaxis" + suffix] = ycfg

fig.update_layout(**layout)

shapes = []
for i in range(3):
    yref = "y" if i == 0 else "y" + str(i + 1)
    x0, x1 = panel_px[i]
    for a, b in [(x0 - bar_w, x0), (x1, x1 + bar_w)]:
        shapes.append(dict(
            type="rect", xref="paper", yref=yref,
            x0=a / W, x1=b / W, y0=zone_top[i], y1=zone_bottom[i],
            fillcolor=zone_colors[i], line=dict(width=0), layer="below",
        ))

# Boundary depth marked across all panels
shapes.append(dict(
    type="line", xref="paper", yref="y",
    x0=75 / W, x1=1.0, y0=85, y1=85,
    line=dict(color="#A8A8A8", width=1.5, dash="13px,7px"), layer="above",
))
fig.update_layout(shapes=shapes)

annotations = []
title_cx = [236, 585, 951]
for i in range(3):
    annotations.append(dict(
        text=panel_titles[i], x=title_cx[i] / W, y=1 - 22 / H,
        xref="paper", yref="paper", showarrow=False,
        xanchor="center", yanchor="middle",
        font=dict(family=font_family, size=15.5, color="black"),
    ))
annotations.append(dict(
    text="Depth (m)", x=19 / W, y=1 - 276 / H, xref="paper", yref="paper",
    showarrow=False, textangle=-90, xanchor="center", yanchor="middle",
    font=dict(family=font_family, size=14.5, color="black"),
))
annotations.append(dict(
    text="Relative gene transcript levels", x=582 / W, y=1 - 543 / H,
    xref="paper", yref="paper", showarrow=False,
    xanchor="center", yanchor="middle",
    font=dict(family=font_family, size=15.5, color="black"),
))
fig.update_layout(annotations=annotations)

fig.write_html("out.html")
